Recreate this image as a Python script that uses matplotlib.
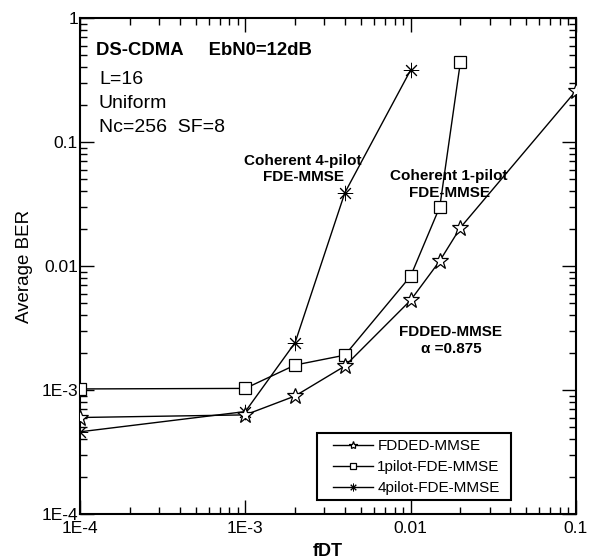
import matplotlib
matplotlib.use("Agg")
import matplotlib.pyplot as plt
from matplotlib.patches import Rectangle
from matplotlib.ticker import LogLocator, FixedLocator, FixedFormatter, NullFormatter

plt.rcParams['font.family'] = ['Liberation Sans', 'DejaVu Sans']

# Data
fdt_fdded = [1e-4, 1e-3, 2e-3, 4e-3, 1e-2, 1.5e-2, 2e-2, 1e-1]
ber_fdded = [6.0e-4, 6.3e-4, 8.95e-4, 1.56e-3, 5.3e-3, 0.011, 0.0204, 0.259]

fdt_1pilot = [1e-4, 1e-3, 2e-3, 4e-3, 1e-2, 1.5e-2, 2e-2]
ber_1pilot = [1.02e-3, 1.03e-3, 1.59e-3, 1.91e-3, 8.3e-3, 0.030, 0.444]

fdt_4pilot = [1e-4, 1e-3, 2e-3, 4e-3, 1e-2]
ber_4pilot = [4.6e-4, 6.7e-4, 2.41e-3, 0.039, 0.381]

labels = ["FDDED-MMSE", "1pilot-FDE-MMSE", "4pilot-FDE-MMSE"]

x_ticks = [1e-4, 1e-3, 1e-2, 1e-1]
x_ticklabels = ["1E-4", "1E-3", "0.01", "0.1"]
y_ticks = [1e-4, 1e-3, 1e-2, 1e-1, 1]
y_ticklabels = ["1E-4", "1E-3", "0.01", "0.1", "1"]

W, H = 595, 559
fig = plt.figure(figsize=(W/100, H/100), dpi=100)
ax = fig.add_axes([80/W, 45/H, 496/W, 496/H])

ax.set_xscale('log')
ax.set_yscale('log')
ax.set_xlim(1e-4, 1e-1)
ax.set_ylim(1e-4, 1)

common = dict(color='black', lw=1.0, mfc='white', mec='black', mew=0.9)
ax.plot(fdt_fdded, ber_fdded, marker='*', ms=12, label=labels[0], **common, zorder=4)
ax.plot(fdt_1pilot, ber_1pilot, marker='s', ms=8, label=labels[1], **common, zorder=3)
ax.plot(fdt_4pilot, ber_4pilot, marker=(8, 2, 0), ms=11, label=labels[2],
        color='black', lw=1.0, mec='black', mew=0.7, zorder=3)

ax.xaxis.set_major_locator(FixedLocator(x_ticks))
ax.xaxis.set_major_formatter(FixedFormatter(x_ticklabels))
ax.yaxis.set_major_locator(FixedLocator(y_ticks))
ax.yaxis.set_major_formatter(FixedFormatter(y_ticklabels))
ax.xaxis.set_minor_locator(LogLocator(base=10, subs=range(2, 10), numticks=20))
ax.yaxis.set_minor_locator(LogLocator(base=10, subs=range(2, 10), numticks=20))
ax.xaxis.set_minor_formatter(NullFormatter())
ax.yaxis.set_minor_formatter(NullFormatter())

ax.tick_params(which='both', direction='in', top=True, right=True, width=1.0, colors='black')
ax.tick_params(which='major', length=10, labelsize=12.5)
ax.tick_params(axis='x', which='major', pad=5)
ax.tick_params(axis='y', which='major', pad=1.5)
ax.tick_params(which='minor', length=5)
for s in ax.spines.values():
    s.set_linewidth(1.5)

ax.set_xlabel("fDT", fontsize=13, fontweight='bold', labelpad=5)
ax.set_ylabel("Average BER", fontsize=13.5, labelpad=6)


def px(x, y):
    return x, H - y

ax.text(*px(96, 55), "DS-CDMA     EbN0=12dB", transform=None, fontsize=13.3, fontweight='bold', va='baseline')
ax.text(*px(99, 84), "L=16", transform=None, fontsize=14, va='baseline')
ax.text(*px(99, 108), "Uniform", transform=None, fontsize=14, va='baseline')
ax.text(*px(99, 132), "Nc=256  SF=8", transform=None, fontsize=14, va='baseline')

ax.text(*px(303, 181), "Coherent 4-pilot\nFDE-MMSE", transform=None, fontsize=11, fontweight='bold',
        ha='center', va='baseline', linespacing=1.2)
ax.text(*px(449, 197), "Coherent 1-pilot\nFDE-MMSE", transform=None, fontsize=11, fontweight='bold',
        ha='center', va='baseline', linespacing=1.25)
ax.text(*px(451, 353), "FDDED-MMSE\n\u03b1 =0.875", transform=None, fontsize=11, fontweight='bold',
        ha='center', va='baseline', linespacing=1.3)

# legend frame and entries
ax.add_patch(Rectangle(((316.7 - 80) / 496, (H - 500 - 45) / 496), (510.5 - 316.7) / 496, (500 - 432.5) / 496,
                       transform=ax.transAxes, fill=True, facecolor='white', edgecolor='black', lw=1.5, zorder=5))
leg = ax.legend(loc='upper left', bbox_to_anchor=((333 - 80) / 496, (H - 439 - 45) / 496),
                fontsize=11, frameon=False, markerscale=0.5, handlelength=2.65, handletextpad=0.25,
                borderaxespad=0, borderpad=0, labelspacing=0.46)
leg.set_zorder(6)

fig.savefig("out.png", dpi=100)
